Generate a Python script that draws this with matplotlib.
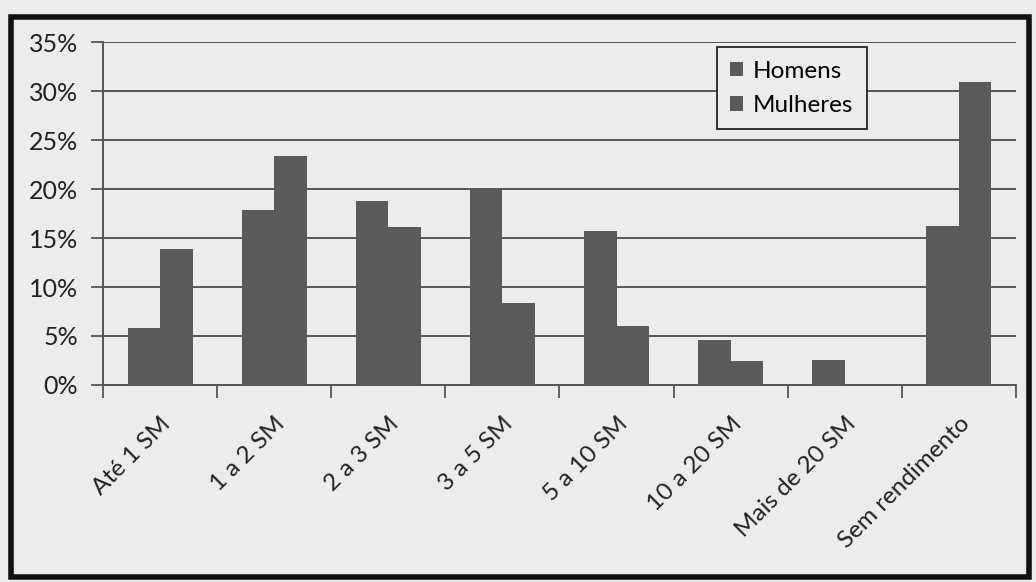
import numpy as np
import matplotlib.pyplot as plt
from matplotlib.patches import Rectangle
from matplotlib.ticker import FuncFormatter

plt.rcParams['font.family'] = ['Lato', 'DejaVu Sans']

categorias = ["Até 1 SM", "1 a 2 SM", "2 a 3 SM", "3 a 5 SM", "5 a 10 SM",
              "10 a 20 SM", "Mais de 20 SM", "Sem rendimento"]
homens = [5.8, 17.9, 18.8, 19.9, 15.7, 4.6, 2.55, 16.2]
mulheres = [13.9, 23.4, 16.1, 8.4, 6.0, 2.4, 0.0, 30.9]

papel = "#ececec"
cinza_barra = "#5a5a5a"
cinza_linha = "#555555"

fig = plt.figure(figsize=(10.36, 5.82), dpi=100, facecolor=papel)
ax = fig.add_axes([0.0994, 0.3385, 0.8813, 0.5893])
ax.set_facecolor(papel)

x = np.arange(len(categorias))
larg = 0.285
ax.bar(x - larg / 2, homens, larg, color=cinza_barra, label="Homens", zorder=3)
ax.bar(x + larg / 2, mulheres, larg, color=cinza_barra, label="Mulheres", zorder=3)

ax.set_xlim(-0.5, len(categorias) - 0.5)
ax.set_ylim(0, 35)
ax.set_yticks(np.arange(0, 36, 5))
ax.yaxis.set_major_formatter(FuncFormatter(lambda v, p: f"{v:.0f}%"))
ax.yaxis.grid(True, color=cinza_linha, linewidth=1.4, zorder=0)
ax.set_axisbelow(True)

# ticks nas divisas entre categorias, rótulos no centro
ax.set_xticks(np.arange(-0.5, len(categorias)), minor=False)
ax.set_xticklabels([])
ax.set_xticks(x, minor=True)
ax.set_xticklabels(categorias, minor=True, rotation=45, ha="right",
                   rotation_mode="anchor", fontsize=17.5, color="#222222")
ax.tick_params(axis="x", which="minor", length=0, pad=20)
ax.tick_params(axis="x", which="major", length=9, width=1.3, color=cinza_linha)
ax.tick_params(axis="y", length=9, width=1.3, color=cinza_linha,
               labelsize=18, labelcolor="#222222", pad=9)

for lado in ["top", "right"]:
    ax.spines[lado].set_visible(False)
for lado in ["left", "bottom"]:
    ax.spines[lado].set_color(cinza_linha)
    ax.spines[lado].set_linewidth(1.4)

leg = ax.legend(loc="upper left", bbox_to_anchor=(0.672, 0.985), borderaxespad=0,
                fontsize=17.5, frameon=True, fancybox=False, handlelength=0.55,
                handleheight=0.55, handletextpad=0.4, borderpad=0.55,
                labelspacing=0.55)
leg.get_frame().set_edgecolor("#222222")
leg.get_frame().set_linewidth(1.3)
leg.get_frame().set_facecolor(papel)
leg.get_frame().set_alpha(1)

# moldura externa
fig.patches.append(Rectangle((0.0105, 0.009), 0.983, 0.961, transform=fig.transFigure,
                             fill=False, edgecolor="#111111", linewidth=4))

fig.savefig("out.png", dpi=100, facecolor=papel)
